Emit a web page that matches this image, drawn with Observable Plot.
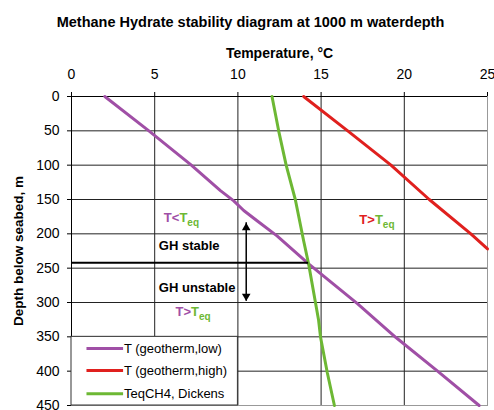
<!DOCTYPE html>
<html><head><meta charset="utf-8">
<script src="https://cdn.jsdelivr.net/npm/d3@7"></script>
<script src="https://cdn.jsdelivr.net/npm/@observablehq/plot@0.6"></script>
<style>body{margin:0;background:#fff} #chart svg{display:block}</style>
</head><body><div id="chart"></div>
<script>
const title = "Methane Hydrate stability diagram at 1000 m waterdepth";
const xLabel = "Temperature, °C";
const yLabel = "Depth below seabed, m";
const xTicks = [0, 5, 10, 15, 20, 25];
const yTicks = [0, 50, 100, 150, 200, 250, 300, 350, 400, 450];

const seriesNames = ["T (geotherm,low)", "T (geotherm,high)", "TeqCH4, Dickens"];
const seriesColors = ["#a04fa6", "#e0201e", "#6db834"];

const lowDepth = [0, 50, 100, 137, 152, 166, 181, 203, 244, 258, 302, 351, 400, 450];
const lowTemp = [2.0, 4.65, 7.2, 8.95, 9.75, 10.35, 11.15, 12.35, 14.27, 14.97, 17.2, 19.5, 22.0, 24.5];
const highDepth = [0, 50, 100, 150, 200, 222];
const highTemp = [13.95, 16.6, 19.2, 21.5, 24.0, 25.0];
const eqDepth = [0, 50, 100, 150, 210, 244, 326, 351, 402, 450];
const eqTemp = [12.05, 12.45, 12.9, 13.45, 13.95, 14.25, 14.85, 14.97, 15.37, 15.8];

// stability boundary and arrow
const boundaryDepth = 242;
const boundaryTemp = 14.25;
const arrowTemp = 10.5;
const arrowDepths = [184, 298];

// annotations
const annText = ["T<Teq", "GH stable", "GH unstable", "T>Teq", "T>Teq"];
const annTemp = [5.55, 5.25, 5.25, 6.25, 17.3];
const annDepth = [177, 218, 279, 314, 180];
const annColor = ["#a04fa6", "#000", "#000", "#a04fa6", "#e0201e"];
const eqColor = "#6db834";

// legend layout
const legendBox = {x1: 0, x2: 10, y1: 350, y2: 450};
const legendDepth = [367, 399, 433];

const series = [
  {name: seriesNames[0], color: seriesColors[0], d: lowDepth, t: lowTemp},
  {name: seriesNames[1], color: seriesColors[1], d: highDepth, t: highTemp},
  {name: seriesNames[2], color: seriesColors[2], d: eqDepth, t: eqTemp}
];
const rows = series.flatMap(s => s.d.map((d, i) => ({series: s.name, color: s.color, depth: d, t: s.t[i]})));
const ann = annText.map((text, i) => ({text, x: annTemp[i], y: annDepth[i], color: annColor[i]}));
const legend = seriesNames.map((name, i) => ({name, color: seriesColors[i], y: legendDepth[i]}));

const font = "'Liberation Sans', Arial, sans-serif";

const plot = Plot.plot({
  width: 494, height: 410,
  marginTop: 96, marginBottom: 5, marginLeft: 71, marginRight: 7,
  style: {fontFamily: font, fontSize: "14px", color: "#000", background: "#fff", overflow: "visible"},
  x: {domain: [0, 25], axis: "top", ticks: xTicks, tickSize: 5, tickPadding: 13, label: null},
  y: {domain: [0, 450], reverse: true, ticks: yTicks, tickSize: 4, tickPadding: 8, label: null},
  marks: [
    Plot.frame({stroke: "#999"}),
    Plot.ruleX(xTicks.slice(1, -1), {stroke: "#222"}),
    Plot.ruleY(yTicks.slice(1, -1), {stroke: "#222"}),
    Plot.ruleY([0], {stroke: "#000"}),
    Plot.ruleX([0], {stroke: "#000"}),
    Plot.rect([legendBox], {x1: "x1", x2: "x2", y1: "y1", y2: "y2", fill: "#fff", stroke: "#333"}),
    Plot.line(rows, {x: "t", y: "depth", z: "series", stroke: d => d.color, strokeWidth: 3}),
    Plot.ruleY([boundaryDepth], {x1: 0, x2: boundaryTemp, stroke: "#000", strokeWidth: 2}),
    Plot.ruleX([arrowTemp], {y1: arrowDepths[0], y2: arrowDepths[1], stroke: "#000", strokeWidth: 1.5}),
    Plot.dot([arrowDepths[0]], {x: () => arrowTemp, y: d => d, symbol: "triangle", r: 3.2, fill: "#000", dy: 5}),
    Plot.dot([arrowDepths[1]], {x: () => arrowTemp, y: d => d, symbol: "triangle", r: 3.2, fill: "#000", rotate: 180, dy: -5}),
    Plot.text(ann, {x: "x", y: "y", text: "text", fill: d => d.color, textAnchor: "start", fontWeight: "bold", fontSize: 13}),
    Plot.link(legend, {x1: () => 0.9, x2: () => 3.1, y1: "y", y2: "y", stroke: d => d.color, strokeWidth: 3}),
    Plot.text(legend, {x: () => 3.15, y: "y", text: "name", textAnchor: "start", fontSize: 13, fill: "#000"}),
    Plot.text([title], {frameAnchor: "top", dy: -80, dx: -29, fontWeight: "bold", fontSize: 14.5}),
    Plot.text([xLabel], {frameAnchor: "top", dy: -48, fontWeight: "bold", fontSize: 14}),
    Plot.text([yLabel], {frameAnchor: "left", textAnchor: "middle", dx: -53, rotate: -90, fontWeight: "bold", fontSize: 13.5})
  ]
});

// mixed colour labels with subscripts
d3.select(plot).selectAll("text").each(function() {
  const t = this.textContent;
  if (t === "T<Teq" || t === "T>Teq") {
    const sel = d3.select(this);
    sel.text("");
    sel.append("tspan").text(t.slice(0, 2));
    sel.append("tspan").attr("fill", eqColor).text("T");
    sel.append("tspan").attr("fill", eqColor).attr("font-size", 10).attr("dy", "0.35em").text("eq");
  }
});

document.getElementById("chart").append(plot);
</script>
</body></html>
